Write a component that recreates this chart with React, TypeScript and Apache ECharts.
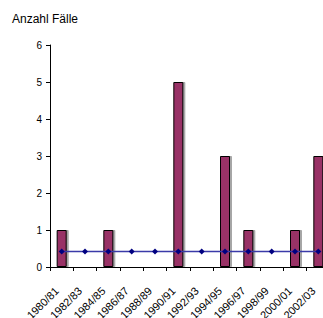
import React, { useEffect, useRef } from "react";
import * as echarts from "echarts";

const categories = ["1980/81", "1982/83", "1984/85", "1986/87", "1988/89", "1990/91", "1992/93", "1994/95", "1996/97", "1998/99", "2000/01", "2002/03"];
const cases = [1, 0, 1, 0, 0, 5, 0, 3, 1, 0, 1, 3];
const meanLine = [0.42, 0.42, 0.42, 0.42, 0.42, 0.42, 0.42, 0.42, 0.42, 0.42, 0.42, 0.42];
const yTicks = [0, 1, 2, 3, 4, 5, 6];

export default function App() {
  const ref = useRef<HTMLDivElement>(null);
  useEffect(() => {
    const chart = echarts.init(ref.current!, undefined, { renderer: "svg" });
    const font = "Liberation Sans, Arial, sans-serif";
    chart.setOption({
      animation: false,
      backgroundColor: "#ffffff",
      textStyle: { fontFamily: font },
      graphic: [
        { type: "text", left: 12, top: 13, style: { text: "Anzahl Fälle", font: `12px ${font}`, fill: "#000" } },
      ],
      grid: { left: 50, top: 45, right: -7, bottom: 51, containLabel: false, outerBoundsMode: "none" },
      xAxis: {
        type: "category",
        data: categories,
        boundaryGap: true,
        axisLine: { lineStyle: { color: "#000", width: 1 } },
        axisTick: { show: true, length: 4, lineStyle: { color: "#000" } },
        axisLabel: { interval: 0, rotate: 45, fontSize: 11, color: "#000", fontFamily: font, margin: 17, padding: [0, 7, 0, 0] },
      },
      yAxis: {
        type: "value",
        min: yTicks[0],
        max: yTicks[yTicks.length - 1],
        interval: 1,
        splitLine: { show: false },
        axisLine: { show: true, lineStyle: { color: "#000", width: 1 } },
        axisTick: { show: true, length: 4, lineStyle: { color: "#000" } },
        axisLabel: { fontSize: 10, color: "#000", fontFamily: font, margin: 8 },
      },
      series: [
        {
          type: "bar",
          data: cases,
          barWidth: 10,
          itemStyle: { color: "#993366", borderColor: "#000", borderWidth: 1, shadowColor: "rgba(0,0,0,0.35)", shadowOffsetX: 2, shadowBlur: 0 },
        },
        {
          type: "line",
          data: meanLine,
          symbol: "diamond",
          symbolSize: 6,
          lineStyle: { color: "#3a3aa8", width: 1.5 },
          itemStyle: { color: "#000080" },
          z: 5,
        },
      ],
    });
    return () => chart.dispose();
  }, []);
  return <div ref={ref} style={{ width: 323, height: 318, position: "absolute", left: 0, top: 0 }} />;
}
